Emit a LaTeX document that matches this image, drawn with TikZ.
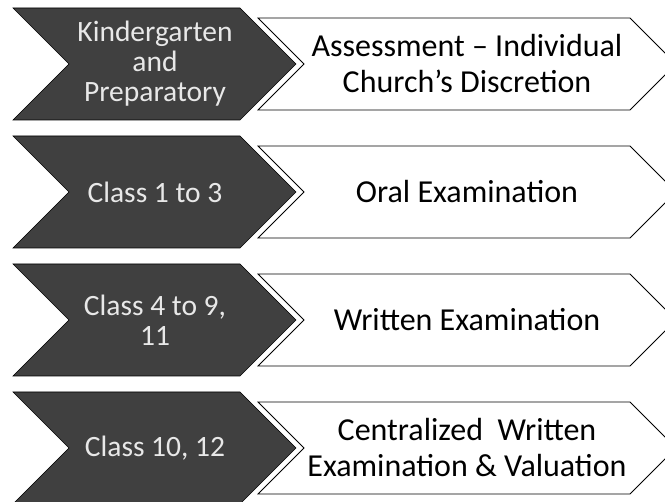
\documentclass[tikz,border=0pt]{standalone}
\usepackage{fontspec}
\setmainfont{Carlito}
\usepackage{xcolor}
\usepackage{tikz}
\definecolor{stagegray}{HTML}{404040}
\definecolor{stagetext}{HTML}{E8E8E8}
\tikzstyle{stage} = [draw=black, line width=0.6pt, fill=stagegray, line join=miter]
\tikzstyle{mode} = [draw=black, line width=0.8pt, fill=white, line join=miter]
\tikzstyle{stagelabel} = [text=stagetext, inner sep=0pt, align=center, font=\fontsize{29.5}{30}\selectfont]
\tikzstyle{modelabel} = [text=black, inner sep=0pt, align=center, font=\fontsize{32}{36}\selectfont]

\begin{document}
\begin{tikzpicture}[x=1pt,y=-1pt]
\useasboundingbox (0,0) rectangle (665,502);
% row 1
\draw [stage] (13,8) -- (240,8) -- (296,64) -- (240,120) -- (13,120) -- (69,64) -- cycle;
\draw [mode] (258,18) -- (630,18) -- (676,64) -- (630,110) -- (258,110) -- (304,64) -- cycle;
\draw (155,64) node (s1) [stagelabel] {Kindergarten\\and\\Preparatory};
\draw (467,64) node (m1) [modelabel] {Assessment -- Individual\\Church’s Discretion};
% row 2
\draw [stage] (13,136) -- (240,136) -- (296,192) -- (240,248) -- (13,248) -- (69,192) -- cycle;
\draw [mode] (258,146) -- (630,146) -- (676,192) -- (630,238) -- (258,238) -- (304,192) -- cycle;
\draw (155,192) node (s2) [stagelabel] {Class 1 to 3};
\draw (467,192) node (m2) [modelabel] {Oral Examination};
% row 3
\draw [stage] (13,264) -- (240,264) -- (296,320) -- (240,376) -- (13,376) -- (69,320) -- cycle;
\draw [mode] (258,274) -- (630,274) -- (676,320) -- (630,366) -- (258,366) -- (304,320) -- cycle;
\draw (155,320) node (s3) [stagelabel] {Class 4 to 9,\\11};
\draw (467,320) node (m3) [modelabel] {Written Examination};
% row 4
\draw [stage] (13,392) -- (240,392) -- (296,448) -- (240,504) -- (13,504) -- (69,448) -- cycle;
\draw [mode] (258,402) -- (630,402) -- (676,448) -- (630,494) -- (258,494) -- (304,448) -- cycle;
\draw (155,448) node (s4) [stagelabel] {Class 10, 12};
\draw (467,448) node (m4) [modelabel] {Centralized\ \ Written\\Examination \& Valuation};
\end{tikzpicture}
\end{document}
